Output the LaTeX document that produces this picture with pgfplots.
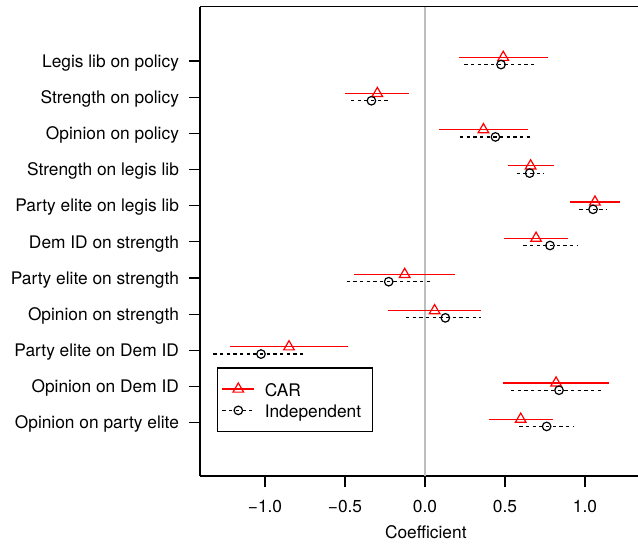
\documentclass[border=0pt]{standalone}
\usepackage{pgfplots}
\pgfplotsset{compat=1.18}
\usepackage{pgfplotstable}
\usepackage{fontspec}
\setmainfont{TeX Gyre Heros}
\definecolor{rgray}{HTML}{BEBEBE}

% CAR: y position (category index + offset), estimate, lower, upper
\pgfplotstableread{
y est lo hi
11.1 0.489 0.214 0.767
10.1 -0.298 -0.498 -0.098
9.1 0.365 0.089 0.646
8.1 0.660 0.517 0.806
7.1 1.062 0.906 1.219
6.1 0.694 0.496 0.892
5.1 -0.127 -0.442 0.190
4.1 0.060 -0.229 0.350
3.1 -0.850 -1.217 -0.479
2.1 0.819 0.490 1.150
1.1 0.598 0.400 0.798
}\car

% Independent: estimates
\pgfplotstableread{
y est
10.9 0.475
9.9 -0.335
8.9 0.440
7.9 0.654
6.9 1.050
5.9 0.781
4.9 -0.227
3.9 0.127
2.9 -1.025
1.9 0.8375
0.9 0.760
}\ind

% Independent: interval segments (lower, upper)
\pgfplotstableread{
x y
0.246 10.9
0.704 10.9
nan nan
-0.462 9.9
-0.219 9.9
nan nan
0.219 8.9
0.667 8.9
nan nan
0.573 7.9
0.740 7.9
nan nan
0.965 6.9
1.135 6.9
nan nan
0.615 5.9
0.954 5.9
nan nan
-0.490 4.9
0.031 4.9
nan nan
-0.119 3.9
0.350 3.9
nan nan
-1.323 2.9
-0.744 2.9
nan nan
0.5375 1.9
1.115 1.9
nan nan
0.590 0.9
0.933 0.9
}\indci

\begin{document}
\begin{tikzpicture}[font=\fontsize{13}{15.6}\selectfont]
\path[use as bounding box] (-150pt,-53.25pt) rectangle (328.5pt,357pt);
\begin{axis}[
  scale only axis, width=338.7pt, height=352pt,
  xmin=-1.40625, xmax=1.416, ymin=-0.47, ymax=12.5,
  axis x line*=box, axis y line*=left,
  axis line style={line width=0.9pt, black},
  tick align=outside, major tick length=8.3pt,
  tick style={line width=0.9pt, black},
  xtick={-1,-0.5,0,0.5,1},
  xticklabels={−1.0,−0.5,0.0,0.5,1.0},
  xtick pos=lower,
  ytick={1,2,3,4,5,6,7,8,9,10,11},
  yticklabels={Opinion on party elite, Opinion on Dem ID, Party elite on Dem ID, Opinion on strength, Party elite on strength, Dem ID on strength, Party elite on legis lib, Strength on legis lib, Opinion on policy, Strength on policy, Legis lib on policy},
  ytick pos=left,
  xticklabel style={anchor=base, yshift=-19.3pt},
  yticklabel style={anchor=base east, xshift=-7.3pt, yshift=-4.6pt, inner sep=0pt},
  xlabel={Coefficient},
  xlabel style={at={(axis description cs:0.5,0)}, anchor=base, yshift=-46.5pt},
  unbounded coords=jump,
  legend image code/.code={
    \path (0pt,0pt) (34.7pt,0pt);
    \draw[mark repeat=2, mark phase=2, #1] plot coordinates {(3.2pt,0pt) (15.3pt,0pt) (27.4pt,0pt)};
  },
  legend cell align=left,
  legend style={at={(0.037,0.2316)}, anchor=north west, draw=black, line width=0.9pt, fill=white,
    inner xsep=0pt, inner ysep=7.875pt, row sep=0pt, column sep=0pt,
    nodes={inner sep=0pt, text height=13.275pt, text depth=2.725pt, anchor=west}},
]
\addplot[rgray, line width=0.9pt, forget plot] coordinates {(0,-0.47) (0,12.5)};

\addlegendimage{red, line width=0.9pt, mark=triangle, mark size=4.6pt, mark options={solid}}
\addlegendentry{CAR}
\addlegendimage{black, line width=0.9pt, dash pattern=on 2.5pt off 2.5pt, mark=o, mark size=3.2pt, mark options={solid}}
\addlegendentry{Independent\hspace*{8.25pt}}

\addplot[red, only marks, mark=triangle, mark size=4.6pt, mark options={solid, line width=0.9pt}, forget plot,
  error bars/.cd, x dir=both, x explicit, error mark=none,
  error bar style={red, line width=0.9pt, solid}]
  table[x=est, y=y, x error plus expr=\thisrow{hi}-\thisrow{est}, x error minus expr=\thisrow{est}-\thisrow{lo}] {\car};

\addplot[black, line width=0.9pt, dash pattern=on 2.5pt off 2.5pt, no marks, forget plot] table[x=x, y=y] {\indci};
\addplot[black, only marks, mark=o, mark size=3.2pt, mark options={solid, line width=0.9pt}, forget plot] table[x=est, y=y] {\ind};
\end{axis}
\end{tikzpicture}
\end{document}
